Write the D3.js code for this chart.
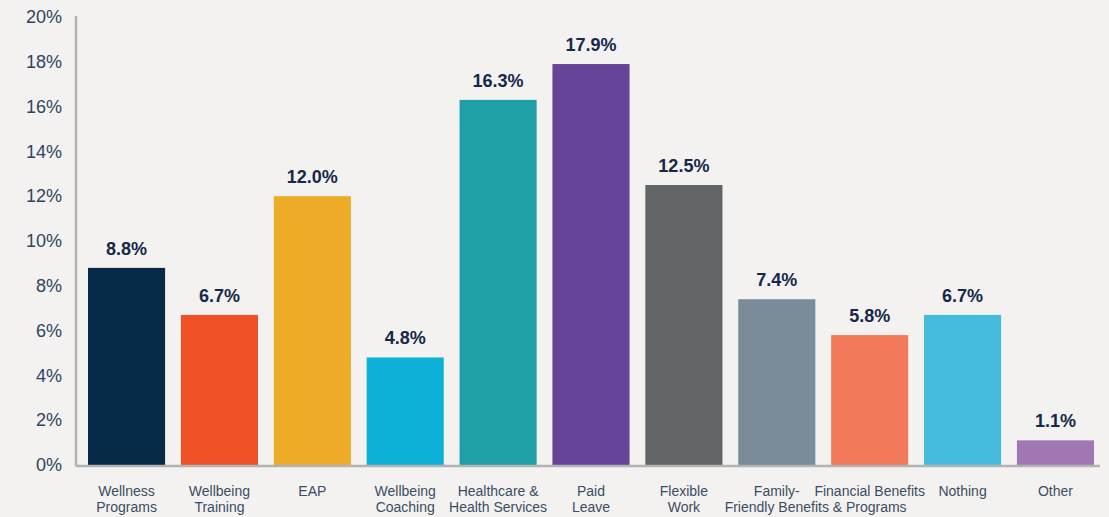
<!DOCTYPE html>
<html>
<head>
<meta charset="utf-8">
<script src="https://cdn.jsdelivr.net/npm/d3@7"></script>
<style>
  html, body { margin: 0; padding: 0; background: #f3f2f0; }
  svg { display: block; }
</style>
</head>
<body>
<svg id="chart" width="1109" height="517"></svg>
<script>
const categories = [
  ["Wellness", "Programs"],
  ["Wellbeing", "Training"],
  ["EAP"],
  ["Wellbeing", "Coaching"],
  ["Healthcare &", "Health Services"],
  ["Paid", "Leave"],
  ["Flexible", "Work"],
  ["Family-", "Friendly Benefits"],
  ["Financial Benefits", "& Programs"],
  ["Nothing"],
  ["Other"]
];
const values = [8.8, 6.7, 12.0, 4.8, 16.3, 17.9, 12.5, 7.4, 5.8, 6.7, 1.1];
const colors = ["#062a47", "#f05126", "#edab28", "#0db0d6", "#1fa0a6", "#65449a",
                "#616566", "#7a8b99", "#f27a5b", "#45bcde", "#a077b3"];
const yTicks = [0, 2, 4, 6, 8, 10, 12, 14, 16, 18, 20];

const svg = d3.select("#chart");
const font = "'Liberation Sans', Arial, Helvetica, sans-serif";

const keys = categories.map((c, i) => i);
const x = d3.scaleBand().domain(keys).range([88, 1094]).paddingInner(0.17).paddingOuter(0);
const y = d3.scaleLinear().domain([0, 20]).range([465, 17]);

// bars
svg.append("g").selectAll("rect").data(values).join("rect")
  .attr("x", (d, i) => x(i))
  .attr("y", d => y(d))
  .attr("width", x.bandwidth())
  .attr("height", d => y(0) - y(d))
  .attr("fill", (d, i) => colors[i]);

// y axis
const yAxis = d3.axisLeft(y).tickValues(yTicks).tickFormat(d => d + "%").tickSize(0).tickPadding(14);
const gy = svg.append("g").attr("transform", "translate(76,0)").call(yAxis);
gy.select(".domain").attr("stroke", "#b3b3b3").attr("stroke-width", 2.5).attr("d", "M0,16V466");
gy.selectAll("text").attr("font-family", font).attr("font-size", 18).attr("fill", "#2f4462");

// baseline
svg.append("line").attr("x1", 76).attr("x2", 1100).attr("y1", y(0) + 1).attr("y2", y(0) + 1)
  .attr("stroke", "#b3b3b3").attr("stroke-width", 2.5);

// value labels
svg.append("g").selectAll("text").data(values).join("text")
  .attr("x", (d, i) => x(i) + x.bandwidth() / 2)
  .attr("y", d => y(d) - 13)
  .attr("text-anchor", "middle")
  .attr("font-family", font).attr("font-weight", "bold").attr("font-size", 18)
  .attr("fill", "#15294a")
  .text(d => d.toFixed(1) + "%");

// category labels
const cg = svg.append("g").selectAll("text").data(categories).join("text")
  .attr("x", (d, i) => x(i) + x.bandwidth() / 2)
  .attr("y", 496)
  .attr("text-anchor", "middle")
  .attr("font-family", font).attr("font-size", 14)
  .attr("fill", "#3b4d66");
cg.selectAll("tspan").data(d => d).join("tspan")
  .attr("x", function() { return d3.select(this.parentNode).attr("x"); })
  .attr("dy", (d, i) => i === 0 ? 0 : 16)
  .text(d => d);
</script>
</body>
</html>
